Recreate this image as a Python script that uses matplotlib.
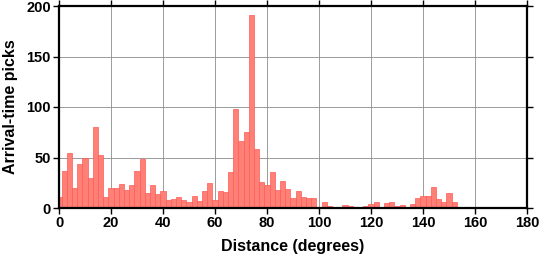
import matplotlib
matplotlib.use("Agg")
import matplotlib.pyplot as plt
import numpy as np

# Bin centres (degrees), 2-degree bins
bin_centers = list(range(0, 180, 2))
counts = [11, 37, 54, 20, 44, 50, 30, 80, 52, 11,
          20, 20, 24, 18, 23, 37, 49, 15, 23, 14,
          17, 8, 9, 11, 8, 6, 12, 7, 17, 25,
          8, 17, 16, 36, 98, 66, 75, 191, 58, 26,
          23, 36, 18, 27, 19, 10, 17, 11, 10, 10,
          0, 6, 2, 0, 0, 3, 2, 0, 0, 2,
          4, 6, 1, 5, 6, 2, 3, 0, 4, 10,
          12, 12, 21, 9, 6, 15, 6, 0, 0, 0,
          0, 0, 0, 0, 0, 0, 0, 0, 0, 0]
x_ticks = [0, 20, 40, 60, 80, 100, 120, 140, 160, 180]
y_ticks = [0, 50, 100, 150, 200]
x_label = "Distance (degrees)"
y_label = "Arrival-time picks"

plt.rcParams['font.family'] = ['Liberation Sans', 'DejaVu Sans']

fig = plt.figure(figsize=(5.39, 2.58), dpi=100)
ax = fig.add_axes([59/539, 50/258, 468/539, 202/258])

ax.grid(True, color="#8c8c8c", linewidth=0.6, zorder=0)
ax.set_axisbelow(True)
ax.bar(bin_centers, counts, width=2, align='center',
       facecolor="#ff8077", edgecolor="#ff5a55", linewidth=0.5, zorder=2)

ax.set_xlim(0, 180)
ax.set_ylim(0, 200)
ax.set_xticks(x_ticks)
ax.set_yticks(y_ticks)
ax.tick_params(direction='out', length=4, width=1.0, labelsize=10.5,
               top=True, right=True, pad=2)
for lab in ax.get_xticklabels() + ax.get_yticklabels():
    lab.set_fontweight('bold')
for sp in ax.spines.values():
    sp.set_linewidth(1.6)
    sp.set_zorder(5)

ax.set_xlabel(x_label, fontsize=11.5, fontweight='bold', labelpad=6)
ax.set_ylabel(y_label, fontsize=11.5, fontweight='bold', labelpad=6)

fig.savefig("out.png", dpi=100)
